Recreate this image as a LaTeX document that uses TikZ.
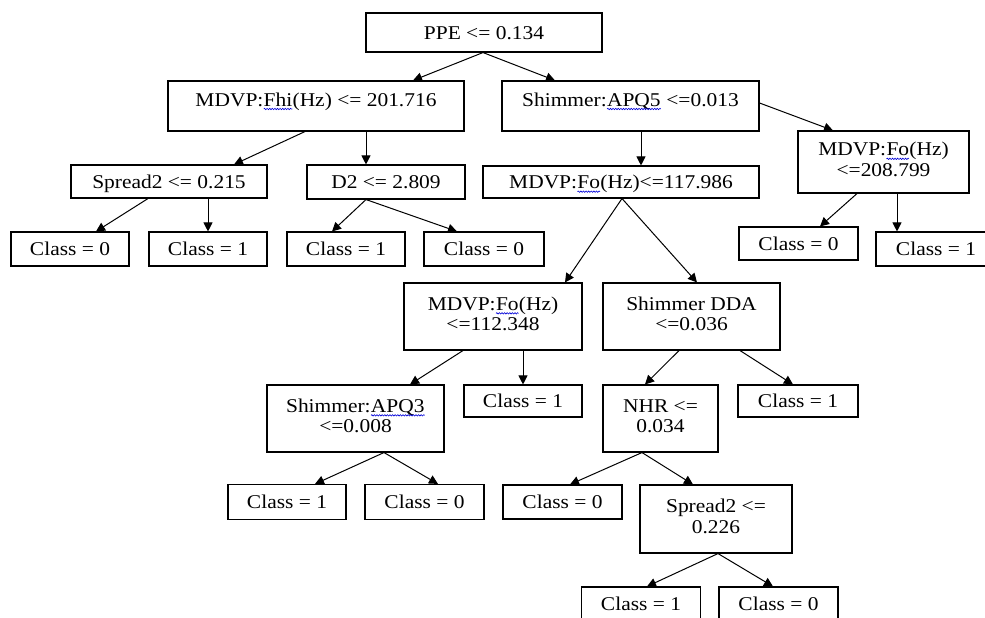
\documentclass[tikz,border=0pt]{standalone}
\usepackage{fontspec}
\setmainfont{Liberation Serif}[FakeStretch=1.1]
\usetikzlibrary{arrows.meta,decorations.pathmorphing}
\newcommand\sq[1]{\tikz[baseline=(sqt.base)]{\node[inner sep=0pt,outer sep=0pt,minimum width=0pt,minimum height=0pt,text height=,text depth=](sqt){#1};\draw[blue!85!black,line width=0.6pt,decorate,decoration={snake,amplitude=0.7pt,segment length=2.6pt}]([yshift=-3pt]sqt.base west)--([yshift=-3pt]sqt.base east);}}
\newcommand\two[3]{\raisebox{#1}{\begin{tabular}{@{}c@{}}#2\\#3\end{tabular}}}
\begin{document}
\begin{tikzpicture}[x=1pt,y=-1pt,
 box/.style={draw,line width=1.1pt,inner sep=0pt,font=\fontsize{19.5}{20.5}\selectfont},
 one/.style={box,text height=13.3pt,text depth=0pt},
 tall/.style={box,text height=10pt,text depth=10pt},
 arr/.style={line width=1pt,-{Triangle[length=9pt,width=9pt]}}]
\fill[white] (0,0) rectangle (985,618);
\useasboundingbox (0,0) rectangle (985,618);
% level 0-1
\node[one,minimum width=236pt,minimum height=39pt] (ppe) at (484,32.5) {PPE <= 0.134};
\node[tall,minimum width=296pt,minimum height=50pt] (fhi) at (316,106) {MDVP:\sq{Fhi}(Hz) <= 201.716};
\node[tall,minimum width=257pt,minimum height=50pt] (apq5) at (630.5,106) {Shimmer:\sq{APQ5} <=0.013};
% level 2
\node[one,minimum width=196pt,minimum height=33pt] (spr1) at (169,181.5) {Spread2 <= 0.215};
\node[one,minimum width=158pt,minimum height=34pt] (d2) at (386,182) {D2 <= 2.809};
\node[one,minimum width=276pt,minimum height=32pt] (fo1) at (621,182) {MDVP:\sq{Fo}(Hz)<=117.986};
\node[box,minimum width=171pt,minimum height=62pt] (fo2) at (883.5,162) {\two{0pt}{MDVP:\sq{Fo}(Hz)}{<=208.799}};
% leaves row 1
\node[one,minimum width=118pt,minimum height=34pt] (c1) at (70,249) {Class = 0};
\node[one,minimum width=118pt,minimum height=34pt] (c2) at (208,249) {Class = 1};
\node[one,minimum width=118pt,minimum height=34pt] (c3) at (346,249) {Class = 1};
\node[one,minimum width=120pt,minimum height=34pt] (c4) at (484,249) {Class = 0};
\node[one,minimum width=119pt,minimum height=33pt] (c5) at (798.5,243.5) {Class = 0};
\node[one,minimum width=120pt,minimum height=34pt] (c6) at (936,249) {Class = 1};
% level 3
\node[box,minimum width=178pt,minimum height=67pt] (fo3) at (493,316.5) {\two{1.4pt}{MDVP:\sq{Fo}(Hz)}{<=112.348}};
\node[box,minimum width=177pt,minimum height=67pt] (dda) at (691.5,316.5) {\two{2.4pt}{Shimmer DDA}{<=0.036}};
% level 4
\node[box,minimum width=177pt,minimum height=67pt] (apq3) at (355.5,418.5) {\two{4.3pt}{Shimmer:\sq{APQ3}}{<=0.008}};
\node[one,minimum width=118pt,minimum height=32pt] (c7) at (523,401) {Class = 1};
\node[box,minimum width=115pt,minimum height=67pt] (nhr) at (660.5,418.5) {\two{3.3pt}{NHR <=}{0.034}};
\node[one,minimum width=120pt,minimum height=32pt] (c8) at (798,401) {Class = 1};
% level 5
\node[one,minimum width=118pt,minimum height=35pt] (c9) at (287,502) {Class = 1};
\node[one,minimum width=119pt,minimum height=35pt] (c10) at (424.5,502) {Class = 0};
\node[one,minimum width=119pt,minimum height=34pt] (c11) at (562.5,502) {Class = 0};
\node[box,minimum width=152pt,minimum height=68pt] (spr2) at (716,519) {\two{2.8pt}{Spread2 <=}{0.226}};
% level 6
\node[one,minimum width=119pt,minimum height=34pt] (c12) at (641,604) {Class = 1};
\node[one,minimum width=119pt,minimum height=34pt] (c13) at (778.5,604) {Class = 0};
% connectors
\draw[arr] ([xshift=-1pt]ppe.south) -- ([xshift=97pt]fhi.north);
\draw[arr] ([xshift=-1pt]ppe.south) -- ([xshift=-75.5pt]apq5.north);
\draw[arr] ([xshift=-11pt]fhi.south) -- ([xshift=65pt]spr1.north);
\draw[arr] ([xshift=50pt]fhi.south) -- ([xshift=-20pt]d2.north);
\draw[arr] ([xshift=10.5pt]apq5.south) -- ([xshift=20pt]fo1.north);
\draw[arr] ([yshift=3pt]apq5.east) -- ([xshift=-50.5pt]fo2.north);
\draw[arr] ([xshift=-21pt]spr1.south) -- ([xshift=26pt]c1.north);
\draw[arr] ([xshift=39pt]spr1.south) -- (c2.north);
\draw[arr] ([xshift=-20pt]d2.south) -- ([xshift=-14pt]c3.north);
\draw[arr] ([xshift=-20pt]d2.south) -- ([xshift=-27pt]c4.north);
\draw[arr] ([xshift=-26.5pt]fo2.south) -- ([xshift=21.5pt]c5.north);
\draw[arr] ([xshift=13.5pt]fo2.south) -- ([xshift=-39pt]c6.north);
\draw[arr] ([xshift=1pt]fo1.south) -- ([xshift=72pt]fo3.north);
\draw[arr] ([xshift=1pt]fo1.south) -- ([xshift=5.5pt]dda.north);
\draw[arr] ([xshift=-30pt]fo3.south) -- ([xshift=54.5pt]apq3.north);
\draw[arr] ([xshift=30pt]fo3.south) -- (c7.north);
\draw[arr] ([xshift=-12.5pt]dda.south) -- ([xshift=-15.5pt]nhr.north);
\draw[arr] ([xshift=48.5pt]dda.south) -- ([xshift=-5pt]c8.north);
\draw[arr] ([xshift=28.5pt]apq3.south) -- ([xshift=28pt]c9.north);
\draw[arr] ([xshift=28.5pt]apq3.south) -- ([xshift=13.5pt]c10.north);
\draw[arr] ([xshift=-18.5pt]nhr.south) -- ([xshift=7.5pt]c11.north);
\draw[arr] ([xshift=-18.5pt]nhr.south) -- ([xshift=-23pt]spr2.north);
\draw[arr] ([xshift=2pt]spr2.south) -- ([xshift=6pt]c12.north);
\draw[arr] ([xshift=2pt]spr2.south) -- ([xshift=-5.5pt]c13.north);
\end{tikzpicture}
\end{document}
